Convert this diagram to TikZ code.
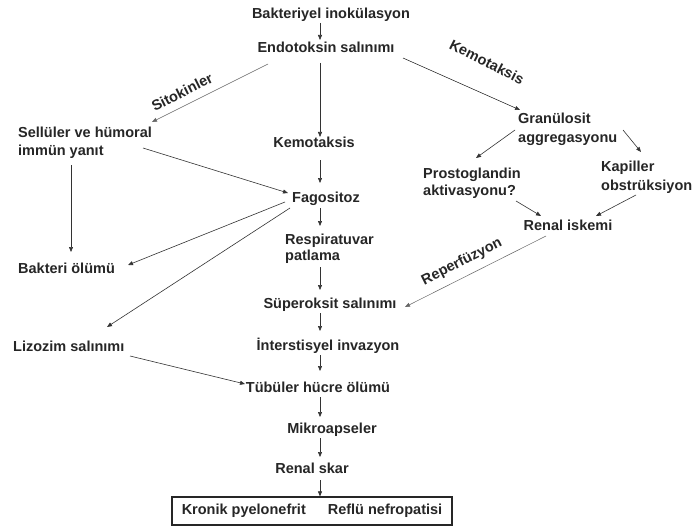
\documentclass[tikz,border=0pt]{standalone}
\usepackage{fontspec}
\setmainfont{Liberation Sans}
\usetikzlibrary{arrows.meta,calc}
\begin{document}
\begin{tikzpicture}[x=1pt,y=-1pt,
  every node/.style={inner sep=0pt, text=black!85, font=\fontsize{14.5}{17.5}\selectfont\bfseries},
  lbl/.style={text height=10.5pt, text depth=3.5pt},
  two/.style={align=left, anchor=north west},
  arr/.style={draw=black!80, line width=0.6pt, -{Triangle[length=5pt,width=4pt]}},
  larr/.style={draw=black!60, line width=0.5pt, -{Triangle[length=5pt,width=4pt]}}]
\fill[white] (0,0) rectangle (696,532);
\useasboundingbox (0,0) rectangle (696,532);
% spine
\node[anchor=base] (bakt) at (331,19) {Bakteriyel inokülasyon};
\node[anchor=base] (endo) at (326,53) {Endotoksin salınımı};
\node[anchor=base] (kemo) at (314,148) {Kemotaksis};
\node[anchor=base] (fago) at (326,202) {Fagositoz};
\node[two, font=\fontsize{14.5}{16}\selectfont\bfseries] (resp) at (285,234) {Respiratuvar\\patlama};
\node[anchor=base] (super) at (330,308) {Süperoksit salınımı};
\node[anchor=base] (inter) at (328,350) {İnterstisyel invazyon};
\node[anchor=base] (tubu) at (318,392) {Tübüler hücre ölümü};
\node[anchor=base] (mikro) at (332,433) {Mikroapseler};
\node[anchor=base] (skar) at (312,473) {Renal skar};
\node[draw=black!85, line width=1.2pt, minimum width=280pt, minimum height=28pt] (box) at (312,511)
  {Kronik pyelonefrit\hspace{22pt}Reflü nefropatisi};
% left
\node[two, font=\fontsize{14.5}{18}\selectfont\bfseries] (sell) at (18,126.5) {Sellüler ve hümoral\\immün yanıt};
\node[anchor=base west] (bakol) at (18,273) {Bakteri ölümü};
\node[anchor=base west] (lizo) at (13,351) {Lizozim salınımı};
% right
\node[two, font=\fontsize{14.5}{19}\selectfont\bfseries] (gran) at (518,112.5) {Granülosit\\aggregasyonu};
\node[two, font=\fontsize{14.5}{17}\selectfont\bfseries] (prost) at (423,167.5) {Prostoglandin\\aktivasyonu?};
\node[two, font=\fontsize{14.5}{19}\selectfont\bfseries] (kap) at (601,160.5) {Kapiller\\obstrüksiyon};
\node[anchor=base] (renisk) at (568,230) {Renal iskemi};
% edge labels
\node[rotate=26.6] (sitok) at (182,92) {Sitokinler};
\node[rotate=-27] (kemol) at (487,62) {Kemotaksis};
\node[rotate=26.7] (reper) at (462,262) {Reperfüzyon};
% spine arrows
\draw[arr] ($(bakt.base)+(-11,4)$) -- ($(endo.base)+(-6,-13)$);
\draw[arr] ($(endo.base)+(-6,10)$) -- ($(kemo.base)+(6,-11)$);
\draw[arr] ($(kemo.base)+(6,12)$) -- ($(fago.base)+(-6,-19)$);
\draw[arr] ($(fago.base)+(-6,6)$) -- ($(resp.north west)+(35,-8)$);
\draw[arr] ($(resp.north west)+(35,33)$) -- ($(super.base)+(-10,-18)$);
\draw[arr] ($(super.base)+(-10,5)$) -- ($(inter.base)+(-8,-19)$);
\draw[arr] ($(inter.base)+(-8,5)$) -- ($(tubu.base)+(2,-21)$);
\draw[arr] ($(tubu.base)+(2,5)$) -- ($(mikro.base)+(-12,-16)$);
\draw[arr] ($(mikro.base)+(-12,5)$) -- ($(skar.base)+(8,-16)$);
\draw[arr] ($(skar.base)+(8,7)$) -- ($(box.north)+(8,0)$);
% left arrows
\draw[larr] ($(endo.base)+(-58,11)$) -- ($(sell.north west)+(134,-4.5)$);
\draw[arr] ($(sell.north west)+(125,21.5)$) -- ($(fago.base)+(-38,-9)$);
\draw[arr] ($(sell.north west)+(53,38.5)$) -- ($(bakol.base west)+(53,-21)$);
\draw[arr] ($(fago.base)+(-41,0)$) -- ($(bakol.base west)+(110,-8)$);
\draw[arr] ($(fago.base)+(-36,6)$) -- ($(lizo.base west)+(94,-24)$);
\draw[arr] ($(lizo.base west)+(117,5)$) -- ($(tubu.base)+(-73,-8)$);
% right arrows
\draw[arr] ($(endo.base)+(77,5)$) -- ($(gran.north west)+(2,-2.5)$);
\draw[arr] ($(gran.north west)+(-3,17.5)$) -- ($(prost.north west)+(53,-9.5)$);
\draw[arr] ($(gran.north west)+(105,17.5)$) -- ($(kap.north west)+(40,-8.5)$);
\draw[arr] ($(prost.north west)+(93,33.5)$) -- ($(renisk.base)+(-27,-14)$);
\draw[arr] ($(kap.north west)+(35,34.5)$) -- ($(renisk.base)+(28,-14)$);
\draw[larr] ($(renisk.base)+(-22,6)$) -- ($(super.base)+(75,-1)$);
\end{tikzpicture}
\end{document}
